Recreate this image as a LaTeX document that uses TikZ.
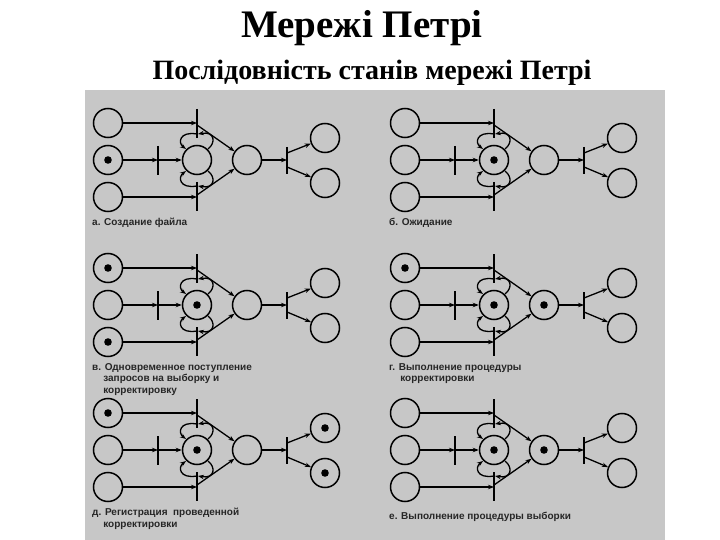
\documentclass[tikz,border=0pt]{standalone}
\usepackage{fontspec}
\setmainfont{Liberation Serif}
\newfontfamily\lab{Liberation Sans}
\usetikzlibrary{arrows.meta}
\tikzset{pl/.style={circle,draw,line width=1.5pt,minimum size=29pt,inner sep=0pt},
 arr/.style={line width=1.3pt,-{Stealth[length=6pt,width=4.5pt]}},
 bar/.style={line width=1.5pt},
 lbl/.style={anchor=north west,font=\lab\bfseries\fontsize{10}{11.5}\selectfont,align=left,text=black!85,inner sep=0pt}}
\newcommand\petri[5]{%
\begin{scope}[shift={(#1,#2)}]
\node[pl] (P1) at (0,0) {};
\node[pl] (P2) at (0,37) {};
\node[pl] (P3) at (0,74) {};
\node[pl] (C) at (89,37) {};
\node[pl] (D) at (139,37) {};
\node[pl] (P5) at (217,15) {};
\node[pl] (P6) at (217,60) {};
\coordinate (T1) at (89,0); \coordinate (T3) at (89,74);
\coordinate (T2) at (50,37); \coordinate (T4) at (179,37);
\draw[bar] (89,-14) -- (89,15);
\draw[bar] (89,59) -- (89,88);
\draw[bar] (50,23) -- (50,52);
\draw[bar] (179,24) -- (179,51);
\draw[arr] (P1) -- (T1);
\draw[arr] (P3) -- (T3);
\draw[arr] (P2) -- (T2);
\draw[arr] (T2) -- (C);
\draw[arr] (89,2) -- (D);
\draw[arr] (89,72) -- (D);
\draw[arr] (D) -- (T4);
\draw[arr] (179,30) -- (P5);
\draw[arr] (179,44) -- (P6);
\draw[arr] (89,11) .. controls (71,8) and (70,20) .. (78,26);
\draw[arr] (100,26) .. controls (108,20) and (107,8) .. (90,11);
\draw[arr] (89,63) .. controls (71,66) and (70,54) .. (78,48);
\draw[arr] (100,48) .. controls (108,54) and (107,66) .. (90,63);
\foreach \t in {#3} \fill (\t) circle (3.8);
\node[lbl] at (-16,#5) {#4};
\end{scope}}
\begin{document}
\begin{tikzpicture}[x=1pt,y=-1pt]
\useasboundingbox (0,0) rectangle (720,540);
\fill[white] (0,0) rectangle (720,540);
\fill[black!22] (85,90) rectangle (665,540);
\node[font=\bfseries\fontsize{39}{42}\selectfont] at (362,28) {Мережі Петрі};
\node[font=\bfseries\fontsize{28}{30}\selectfont] at (372,73) {Послідовність станів мережі Петрі};
\petri{108}{123}{P2}{а. Создание файла}{95}
\petri{405}{123}{C}{б. Ожидание}{95}
\petri{108}{268}{P1,P3,C}{в. Одновременное поступление\\\ \ \ \ запросов на выборку и\\\ \ \ \ корректировку}{95}
\petri{405}{268}{P1,C,D}{г. Выполнение процедуры\\\ \ \ \ корректировки}{95}
\petri{108}{413}{P1,C,P5,P6}{д. Регистрация\ \ проведенной\\\ \ \ \ корректировки}{95}
\petri{405}{413}{C,D}{е. Выполнение процедуры выборки}{99}
\end{tikzpicture}
\end{document}
